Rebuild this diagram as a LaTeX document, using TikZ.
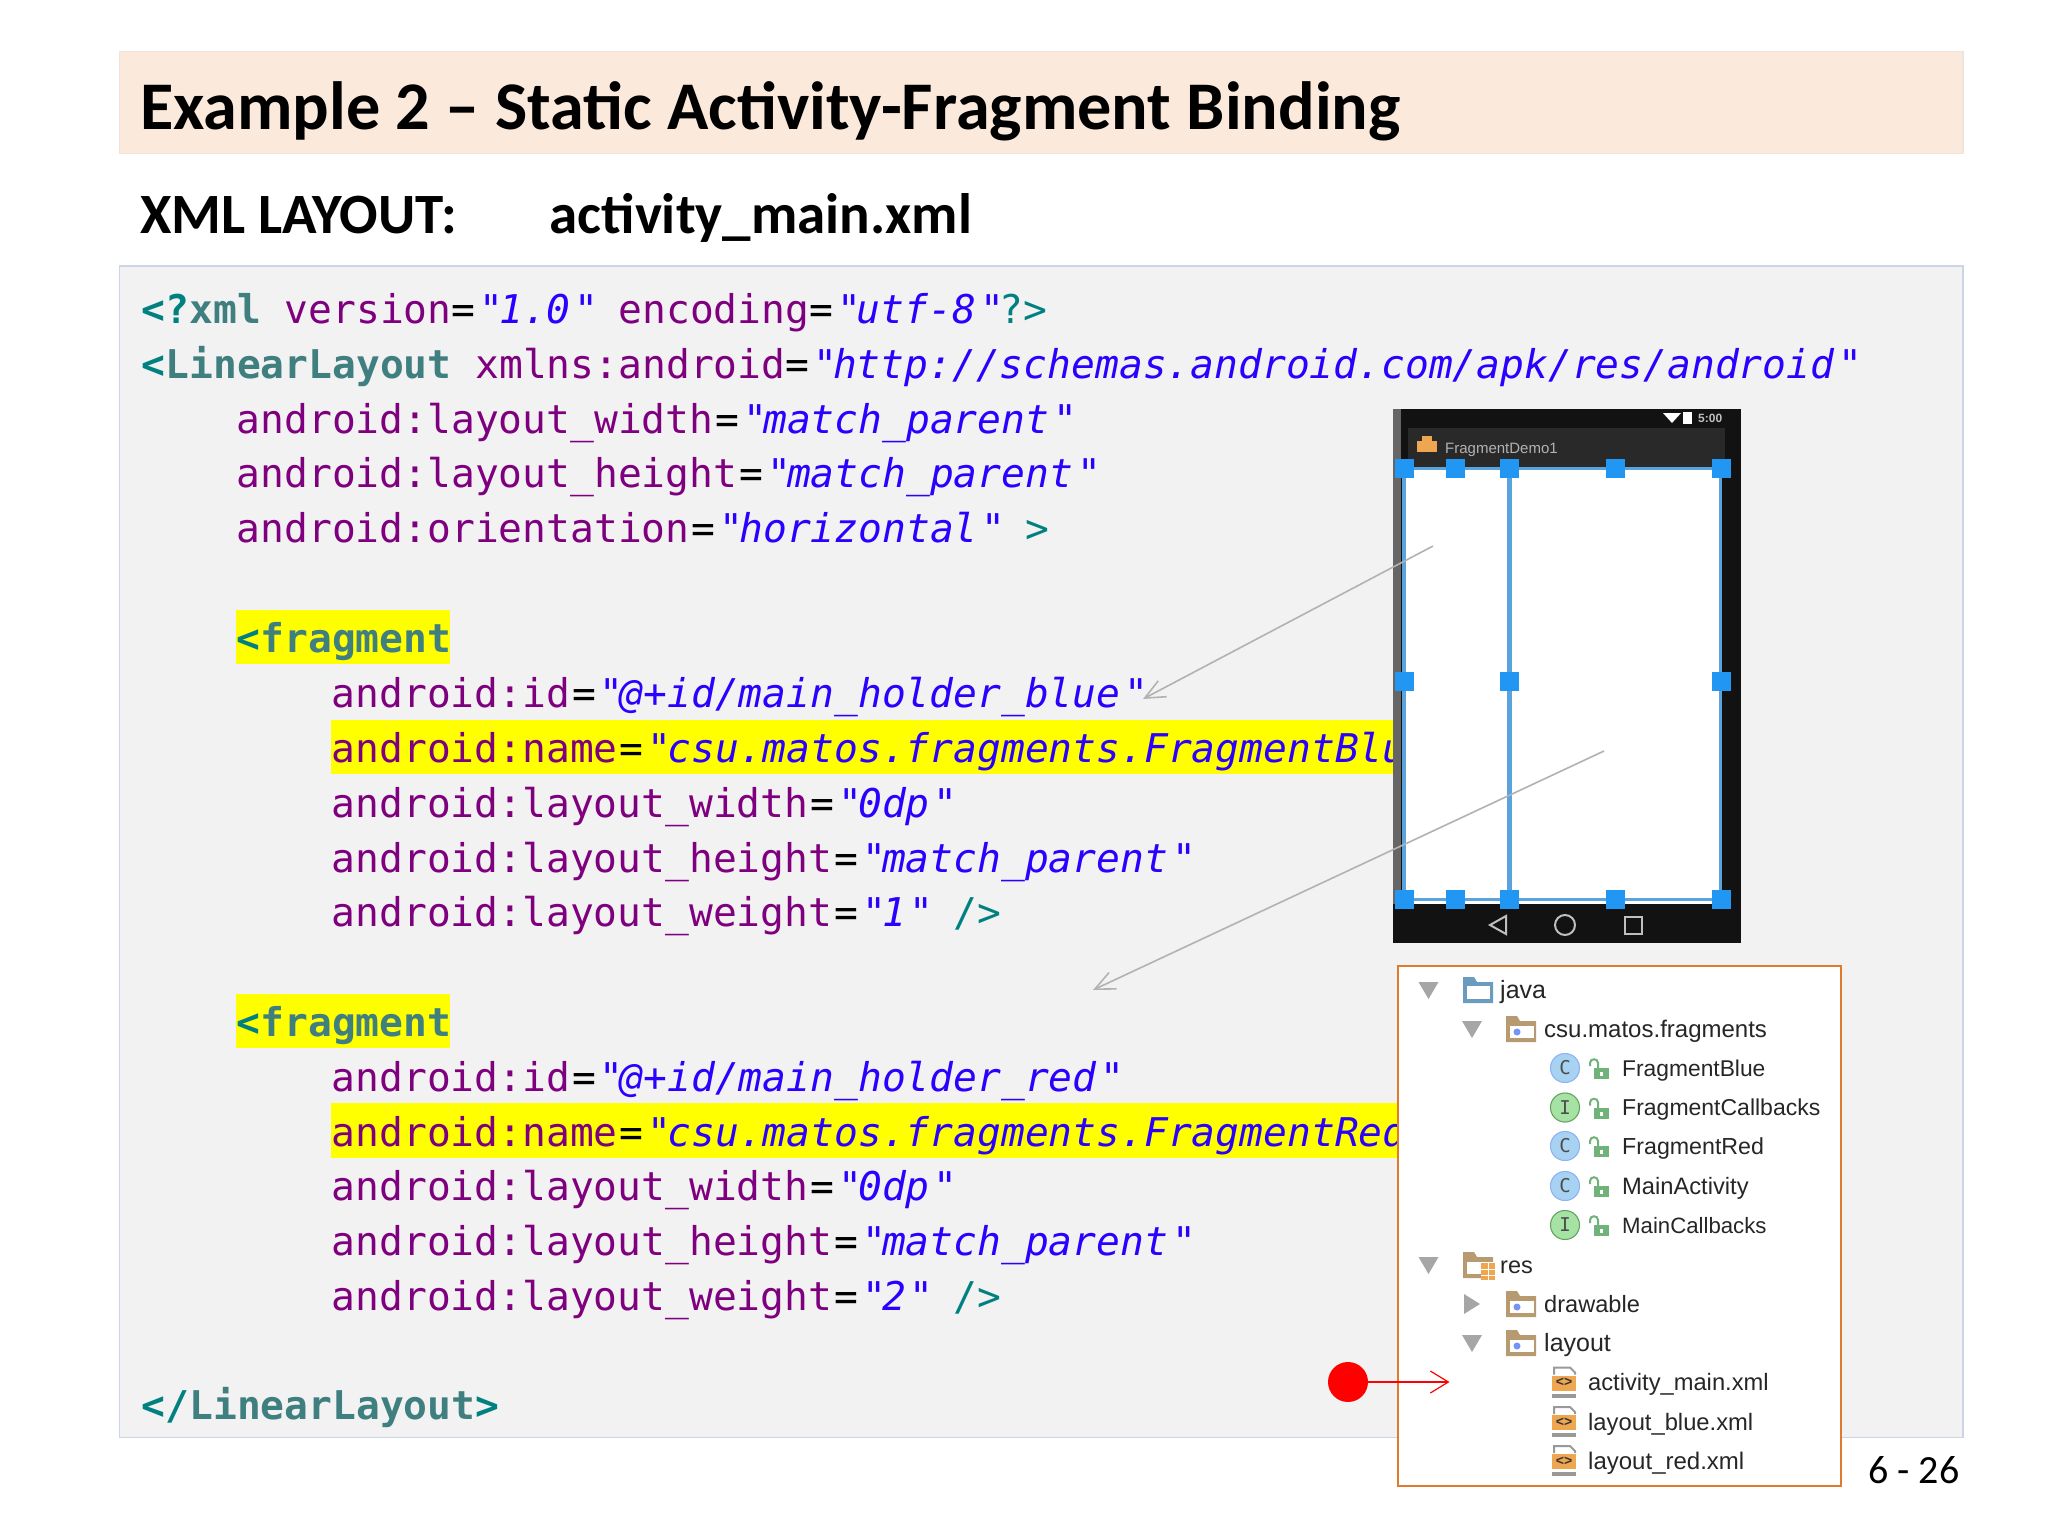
\documentclass[tikz,border=0pt]{standalone}
\usepackage{fontspec}
\usetikzlibrary{arrows.meta}
\newfontfamily\carlitofont{Carlito}
\newfontfamily\codefont{DejaVu Sans Mono}
\newfontfamily\treefont{Liberation Sans}
\definecolor{tagc}{HTML}{3F7F7F}
\definecolor{brc}{HTML}{008080}
\definecolor{attrc}{HTML}{7F007F}
\definecolor{valc}{HTML}{2A00FF}
\definecolor{titlefill}{HTML}{FBE9DC}
\definecolor{titleline}{HTML}{EFE3DA}
\definecolor{codefill}{HTML}{F2F2F2}
\definecolor{codeedge}{HTML}{CBD5E6}
\definecolor{handleblue}{HTML}{2196F3}
\definecolor{frameblue}{HTML}{5AA3DC}
\definecolor{foldertan}{HTML}{B89A70}
\definecolor{orangebox}{HTML}{E07B2E}
\definecolor{cblue}{HTML}{A8D2F2}
\definecolor{cgreen}{HTML}{A6E2A4}
\definecolor{lockgreen}{HTML}{6FB27A}
\definecolor{xmlorange}{HTML}{EFA650}
\definecolor{javablue}{HTML}{6A9CC0}
\definecolor{hly}{HTML}{FFFF00}
\definecolor{dotred}{HTML}{FF0000}
\newcommand\xbr[1]{\textcolor{brc}{#1}}
\newcommand\xtg[1]{\textcolor{brc}{\bfseries<}\textcolor{tagc}{\bfseries #1}}
\newcommand\xat[1]{\textcolor{attrc}{#1}}
\newcommand\xq{\rlap{\hspace{4pt}"}\phantom{"}}
\newcommand\xva[1]{\textcolor{valc}{\itshape\xq #1\xq}}
\newcommand\xeq{\textcolor{black}{=}}
\newcommand\xei{\hspace{2pt}\xeq}
\newcommand\tsz[1]{\fontsize{#1}{28}\selectfont}
\tikzset{
  x=1pt,y=-1pt,
  titlebox/.style={draw=titleline,fill=titlefill,line width=1.2pt},
  codebox/.style={draw=codeedge,fill=codefill,line width=1.2pt},
  codeline/.style={anchor=base west,inner sep=0pt,font=\codefont\fontsize{39.6}{48}\selectfont},
  headtext/.style={anchor=base west,inner sep=0pt,font=\carlitofont\bfseries\fontsize{57}{64}\selectfont},
  handle/.style={fill=handleblue,minimum size=19pt,inner sep=0pt,rectangle},
  treetext/.style={anchor=base west,inner sep=0pt,text=black!85,font=\treefont\fontsize{23}{28}\selectfont},
  pointer/.style={draw=black!30,line width=1.6pt,-{Straight Barb[length=20pt,width=18pt,line width=1.6pt]}},
  redpointer/.style={draw=dotred,line width=1.2pt,-{Straight Barb[length=18pt,width=22pt,line width=1.2pt]}},
  folderpic/.pic={
    \fill[foldertan] (-15,-13) -- (-15,13) -- (15,13) -- (15,-8) -- (-1,-8) -- (-4,-13) -- cycle;
    \fill[white] (-11,-3) rectangle (13,9);
    \fill[cblue!70!blue] (-4,3) circle (3.5);
  },
  javafolderpic/.pic={
    \fill[javablue] (-15,-13) -- (-15,13) -- (15,13) -- (15,-8) -- (-1,-8) -- (-4,-13) -- cycle;
    \fill[white] (-11,-4) rectangle (12,9);
  },
  resfolderpic/.pic={
    \fill[foldertan] (-15,-13) -- (-15,13) -- (15,13) -- (15,-8) -- (-1,-8) -- (-4,-13) -- cycle;
    \fill[white] (-11,-3) rectangle (15,9);
    \fill[xmlorange] (3,-2) rectangle (17,15);
    \draw[white,line width=.8pt] (3,4) -- (17,4) (3,10) -- (17,10) (10,-2) -- (10,15);
  },
  downtri/.pic={\fill[black!35] (-10,-8) -- (10,-8) -- (0,9) -- cycle;},
  righttri/.pic={\fill[black!35] (-8,-10) -- (8,0) -- (-8,10) -- cycle;},
  lockpic/.pic={
    \draw[lockgreen,line width=2pt] (-9,-2) -- (-9,-5) .. controls (-9,-10) and (-1,-10) .. (-1,-5) -- (-1,1);
    \fill[lockgreen] (-5,0) rectangle (10,11);
    \fill[white] (1,4) rectangle (4,8);
  },
  classbluepic/.pic={
    \fill[cblue] (0,0) circle (15);
    \draw[cblue!85!blue,line width=1pt] (0,0) circle (14.5);
  },
  classgreenpic/.pic={
    \fill[cgreen] (0,0) circle (15);
    \draw[cgreen!85!green!70!black,line width=1pt] (0,0) circle (14.5);
  },
  xmlpic/.pic={
    \draw[black!40,line width=2pt] (-10,-8) -- (-10,-15) -- (6,-15) -- (11,-10) -- (11,-8);
    \fill[xmlorange] (-12,-7) rectangle (12,8);
    \fill[black!40] (-12,11) rectangle (12,15);
    \node[inner sep=0pt,text=black!80,font=\treefont\bfseries\fontsize{14}{16}\selectfont] at (0,0) {<>};
  },
}
\begin{document}
\begin{tikzpicture}
\useasboundingbox (0,0) rectangle (2048,1536);
\fill[white] (0,0) rectangle (2048,1536);
% title
\draw[titlebox] (119.5,51.5) rectangle (1963,153.5);
\node[headtext,font=\carlitofont\bfseries\fontsize{68.2}{74}\selectfont] (title) at (140,129.5) {Example 2 – Static Activity-Fragment Binding};
\node[headtext] (sub1) at (140,233.5) {XML LAYOUT:};
\node[headtext] (sub2) at (549.5,233.5) {activity\_main.xml};
% code panel
\draw[codebox] (119.5,266) rectangle (1963,1437.5);
\fill[hly] (236,610) rectangle (450,664);
\fill[hly] (331,720) rectangle (1400,774);
\fill[hly] (236,994) rectangle (450,1048);
\fill[hly] (331,1103) rectangle (1400,1158);
\node[codeline] (l1) at (141.5,323) {\xtg{}\xbr{\bfseries ?}\textcolor{tagc}{\bfseries xml} \xat{version}\xeq\xva{1.0} \xat{encoding}\xeq\xva{utf-8}\xbr{?>}};
\node[codeline] (l2) at (141.5,378.2) {\xtg{LinearLayout} \xat{xmlns:android}\xeq\xva{http://schemas.android.com/apk/res/android}};
\node[codeline] (l3) at (236.5,433) {\xat{android:layout\_width}\xei\xva{match\_parent}};
\node[codeline] (l4) at (236.5,487.8) {\xat{android:layout\_height}\xei\xva{match\_parent}};
\node[codeline] (l5) at (236.5,542.6) {\xat{android:orientation}\xei\xva{horizontal} \xbr{>}};
\node[codeline] (l7) at (236.5,652.6) {\xtg{fragment}};
\node[codeline] (l8) at (331.5,707.6) {\xat{android:id}\xei\xva{@+id/main\_holder\_blue}};
\node[codeline] (l9) at (331.5,762.4) {\xat{android:name}\xei\xva{csu.matos.fragments.FragmentBlue}};
\node[codeline] (l10) at (331.5,817.2) {\xat{android:layout\_width}\xei\xva{0dp}};
\node[codeline] (l11) at (331.5,872) {\xat{android:layout\_height}\xei\xva{match\_parent}};
\node[codeline] (l12) at (331.5,926.8) {\xat{android:layout\_weight}\xei\xva{1} \xbr{/>}};
\node[codeline] (l14) at (236.5,1036.4) {\xtg{fragment}};
\node[codeline] (l15) at (331.5,1091.2) {\xat{android:id}\xei\xva{@+id/main\_holder\_red}};
\node[codeline] (l16) at (331.5,1146) {\xat{android:name}\xei\xva{csu.matos.fragments.FragmentRed}};
\node[codeline] (l17) at (331.5,1200.8) {\xat{android:layout\_width}\xei\xva{0dp}};
\node[codeline] (l18) at (331.5,1255.6) {\xat{android:layout\_height}\xei\xva{match\_parent}};
\node[codeline] (l19) at (331.5,1310.4) {\xat{android:layout\_weight}\xei\xva{2} \xbr{/>}};
\node[codeline] (l21) at (141.5,1419.5) {\textcolor{brc}{\bfseries</}\textcolor{tagc}{\bfseries LinearLayout}\textcolor{brc}{\bfseries>}};
% phone
\fill[black!93] (1393,409) rectangle (1741,943);
\fill[black!60] (1393,409) rectangle (1401,904);
\fill[black!84] (1408,428) rectangle (1725,468);
\fill[white] (1405,468) rectangle (1720,904);
\draw[frameblue,line width=4pt] (1404,466) -- (1404,902);
\draw[frameblue,line width=5pt] (1509,468) -- (1509,899);
\draw[frameblue,line width=3pt] (1720,468) -- (1720,902);
\draw[frameblue,line width=3pt] (1404,468) -- (1721,468);
\draw[frameblue,line width=3pt] (1404,899) -- (1721,899);
\foreach \hx in {1404,1455,1509,1615,1721} {
  \node[handle] at (\hx,468) {};
  \node[handle] at (\hx,899) {};
}
\foreach \hx in {1404,1509,1721} { \node[handle] at (\hx,681) {}; }
\fill[xmlorange] (1417,441) rectangle (1437,452);
\fill[xmlorange] (1422,436) rectangle (1432,441);
\node[anchor=base west,inner sep=0pt,text=black!30,font=\treefont\fontsize{15}{18}\selectfont] (appname) at (1445,453) {FragmentDemo1};
\fill[white] (1663,413) -- (1681,413) -- (1672,423) -- cycle;
\fill[white] (1683,412) rectangle (1692,424);
\node[anchor=base west,inner sep=0pt,text=black!25,font=\treefont\bfseries\fontsize{12}{14}\selectfont] (clock) at (1698,422) {5:00};
\draw[black!25,line width=2pt] (1506,916) -- (1506,934) -- (1490,925) -- cycle;
\draw[black!25,line width=2pt] (1565,925) circle (10);
\draw[black!25,line width=2pt] (1625,917) rectangle (1642,934);
% project tree
\draw[draw=orangebox,line width=2pt,fill=white] (1398,966) rectangle (1841,1486);
\pic at (1428.5,990) {downtri};
\pic at (1472,1029) {downtri};
\pic at (1428.5,1265) {downtri};
\pic at (1472,1304) {righttri};
\pic at (1472,1343) {downtri};
\pic at (1478,990) {javafolderpic};
\pic at (1521,1029) {folderpic};
\pic at (1478,1265) {resfolderpic};
\pic at (1521,1304) {folderpic};
\pic at (1521,1343) {folderpic};
\node[treetext] (java) at (1500,998) {\tsz{25}java};
\node[treetext] (pkg) at (1544,1037) {\tsz{24}csu.matos.fragments};
\node[treetext] (res) at (1500,1273) {\tsz{23.5}res};
\node[treetext] (drawable) at (1544,1312) {\tsz{23.6}drawable};
\node[treetext] (layoutdir) at (1544,1351) {\tsz{25}layout};
\foreach \iy/\icn/\ltr/\nm/\sz in {1068/classbluepic/C/FragmentBlue/22.8,1107.5/classgreenpic/I/FragmentCallbacks/23,1146/classbluepic/C/FragmentRed/23.2,1186/classbluepic/C/MainActivity/23.7,1225/classgreenpic/I/MainCallbacks/22.2} {
  \pic at (1565,\iy) {\icn};
  \node[inner sep=0pt,text=black!70,font=\codefont\fontsize{19}{22}\selectfont] at (1565,\iy) {\ltr};
  \pic at (1599,\iy) {lockpic};
  \node[treetext] at (1622,\iy+8) {\tsz{\sz}\nm};
}
\foreach \iy/\nm/\sz in {1382.5/activity\_main.xml/23.7,1422/layout\_blue.xml/23.75,1461/layout\_red.xml/24} {
  \pic at (1564,\iy) {xmlpic};
  \node[treetext] at (1588,\iy+8) {\tsz{\sz}\nm};
}
% page number
\node[anchor=base east,inner sep=0pt,font=\carlitofont\fontsize{40}{46}\selectfont] (pageno) at (1959.5,1483) {6 - 26};
% connectors
\coordinate (bluefrom) at (1433,546);
\coordinate (blueto) at (1143,699);
\coordinate (redfrom) at (1604,751);
\coordinate (redto) at (1093,990);
\coordinate (fileto) at (1449.5,1382);
\draw[pointer] (bluefrom) -- (blueto);
\draw[pointer] (redfrom) -- (redto);
\node[circle,fill=dotred,minimum size=40pt,inner sep=0pt] (reddot) at (1348,1382) {};
\draw[redpointer] (reddot) -- (fileto);
\end{tikzpicture}
\end{document}
